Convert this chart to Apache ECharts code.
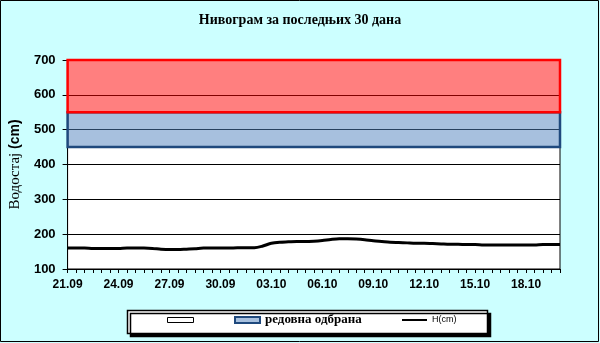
<!DOCTYPE html>
<html>
<head>
<meta charset="utf-8">
<script src="https://cdn.jsdelivr.net/npm/echarts@6/dist/echarts.min.js"></script>
<style>
html,body{margin:0;padding:0;background:#ccffff;}
#c{width:600px;height:343px;}
</style>
</head>
<body>
<div id="c"></div>
<script>
// two readings per day, 21.09 -> 20.10
var categories = [
 "21.09","21.09","22.09","22.09","23.09","23.09","24.09","24.09","25.09","25.09",
 "26.09","26.09","27.09","27.09","28.09","28.09","29.09","29.09","30.09","30.09",
 "01.10","01.10","02.10","02.10","03.10","03.10","04.10","04.10","05.10","05.10",
 "06.10","06.10","07.10","07.10","08.10","08.10","09.10","09.10","10.10","10.10",
 "11.10","11.10","12.10","12.10","13.10","13.10","14.10","14.10","15.10","15.10",
 "16.10","16.10","17.10","17.10","18.10","18.10","19.10","19.10","20.10"
];
var waterLevel = [
 160,160,160,159,159,159,159,160,160,160,
 159,157,156,156,157,158,160,160,160,160,
 161,161,161,166,174,177,178,179,179,180,
 182,185,187,187,186,184,181,179,177,176,
 175,174,174,173,172,171,171,170,170,169,
 169,169,169,169,169,169,170,170,170
];
var regularDefense = [450, 550];
var extraDefense = [550, 700];
var yTicks = {min: 100, max: 700, interval: 100};
var titleText = "Нивограм за последњих 30 дана";

var chart = echarts.init(document.getElementById('c'));
var serif = "'Liberation Serif','Times New Roman',serif";
var sans = "'Liberation Sans',Arial,sans-serif";
chart.setOption({
  backgroundColor: '#ccffff',
  animation: false,
  title: {
    text: titleText, left: 'center', top: 13,
    textStyle: {fontFamily: serif, fontWeight: 'bold', fontSize: 14, color: '#000'},
    padding: 0, itemGap: 0
  },
  grid: {left: 65, right: 40, top: 60, bottom: 74, show: true, backgroundColor: '#fff', borderColor: '#000', borderWidth: 1},
  xAxis: {
    type: 'category', data: categories, boundaryGap: false,
    axisLine: {lineStyle: {color: '#000', width: 1}},
    axisTick: {interval: 0, length: 4, lineStyle: {color: '#000'}},
    axisLabel: {interval: 5, color: '#000', fontFamily: sans, fontWeight: 'bold', fontSize: 12, margin: 10},
    splitLine: {show: false}
  },
  yAxis: {
    type: 'value', min: yTicks.min, max: yTicks.max, interval: yTicks.interval,
    axisLine: {show: true, lineStyle: {color: '#000', width: 1}},
    axisTick: {show: true, length: 5, lineStyle: {color: '#000'}},
    axisLabel: {color: '#000', fontFamily: sans, fontWeight: 'bold', fontSize: 13, margin: 12},
    splitLine: {lineStyle: {color: '#000', width: 1}},
    name: '{a|Водостај }{b|(cm)}', nameLocation: 'middle', nameGap: 42, nameRotate: 90,
    nameTextStyle: {rich: {
      a: {fontFamily: serif, fontSize: 15, color: '#000'},
      b: {fontFamily: sans, fontSize: 14, fontWeight: 'bold', color: '#000'}
    }}
  },
  graphic: [
    {type: 'rect', z: -1, shape: {x: 0.5, y: 0.5, width: 598, height: 341}, style: {fill: null, stroke: '#000', lineWidth: 1}},
    {type: 'rect', z: 1, shape: {x: 127.5, y: 310.5, width: 360, height: 23},
     style: {fill: '#fff', stroke: '#000', lineWidth: 1.5, shadowColor: '#000', shadowOffsetX: 3, shadowOffsetY: 3, shadowBlur: 0}}
  ],
  legend: [
    {left: 167, top: 313, padding: 0, z: 10, itemWidth: 26, itemHeight: 5,
     data: [{name: ' ', icon: 'rect', itemStyle: {color: '#fff', borderColor: '#000', borderWidth: 1}}],
     textStyle: {fontSize: 12, lineHeight: 14}},
    {left: 234, top: 313, padding: 0, z: 10, itemWidth: 25, itemHeight: 6,
     data: [{name: 'редовна одбрана', icon: 'rect', itemStyle: {color: 'rgba(79,129,189,0.5)', borderColor: '#1f497d', borderWidth: 2}}],
     textStyle: {fontFamily: serif, fontWeight: 'bold', fontSize: 13, color: '#000', lineHeight: 14}},
    {left: 402, top: 313, padding: 0, z: 10, itemWidth: 25, itemHeight: 2,
     data: [{name: 'H(cm)', icon: 'rect', itemStyle: {color: '#000', borderWidth: 0}}],
     textStyle: {fontFamily: sans, fontSize: 9, color: '#000', lineHeight: 14}}
  ],
  series: [
    {name: ' ', type: 'line', data: [], itemStyle: {color: '#fff'}},
    {name: 'редовна одбрана', type: 'line', data: [], silent: true,
     markArea: {silent: true, itemStyle: {color: 'rgba(79,129,189,0.5)', borderColor: '#1f497d', borderWidth: 2.5},
       data: [[{yAxis: regularDefense[0]}, {yAxis: regularDefense[1]}]]}},
    {name: 'ванредна одбрана', type: 'line', data: [], silent: true,
     markArea: {silent: true, itemStyle: {color: 'rgba(255,0,0,0.5)', borderColor: '#ff0000', borderWidth: 2.5},
       data: [[{yAxis: extraDefense[0]}, {yAxis: extraDefense[1]}]]}},
    {name: 'H(cm)', type: 'line', data: waterLevel, smooth: 0.3, symbol: 'none', showSymbol: false, z: 5,
     lineStyle: {color: '#000', width: 3}, itemStyle: {color: '#000'}}
  ]
});
</script>
</body>
</html>
